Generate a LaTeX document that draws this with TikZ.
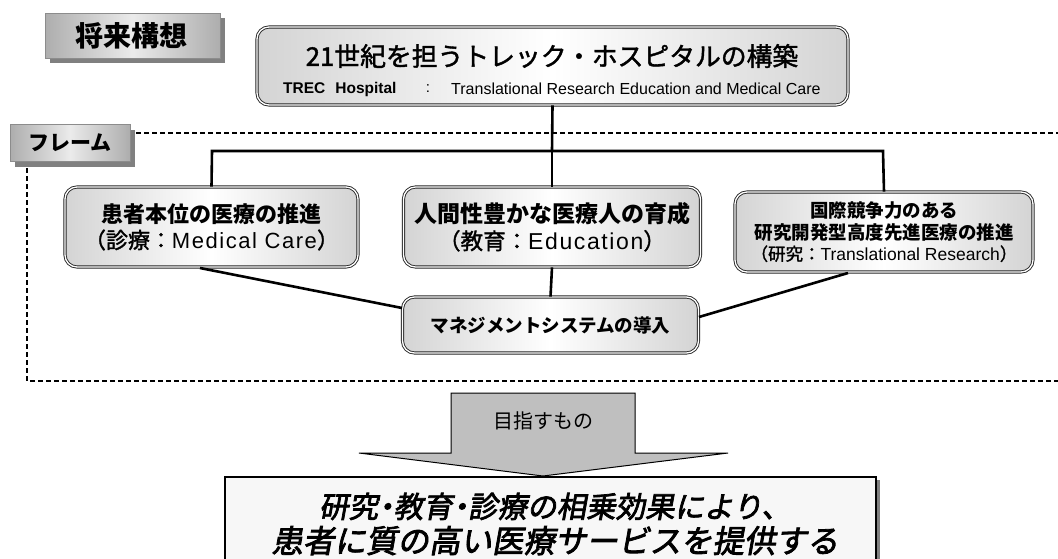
\documentclass[tikz,border=0pt]{standalone}
\usepackage{fontspec}
\setmainfont{Liberation Sans}
\newfontfamily\jp{Noto Sans CJK JP}
\newfontfamily\jpm[FakeBold=1.5]{Noto Sans CJK JP}
\newfontfamily\jpit[FakeSlant=0.18,FakeBold=2.5]{Noto Sans CJK JP}
\newfontfamily\latw[LetterSpace=7]{Liberation Sans}
\usetikzlibrary{shadows}
\newcommand{\fs}[1]{\fontsize{#1}{#1}\selectfont}
\tikzset{
  rbox/.style={rounded corners=12pt, draw=black!85, line width=0.9pt, double=white, double distance=1.3pt,
    left color=black!17, right color=black!17, middle color=white, inner sep=0pt},
  tag/.style={draw=black!45, line width=1pt, left color=black!32, right color=black!32, middle color=black!8,
    inner sep=0pt, drop shadow={shadow xshift=5pt, shadow yshift=-5pt, fill=black!50, opacity=1}},
  conn/.style={line width=2.6pt, black},
  frame/.style={line width=1.4pt, dash pattern=on 5pt off 3pt},
  txt/.style={inner sep=0pt, align=center},
}
\begin{document}
\begin{tikzpicture}[x=1pt,y=-1pt]
\useasboundingbox[fill=white] (0,0) rectangle (1058,558);

% frame
\node[tag, minimum width=120pt, minimum height=37pt] (fr) at (70,143) {};
\node[txt] (frt) at (fr) {\jp\bfseries\fs{21}フレーム};
\coordinate (f1) at (136,133);
\coordinate (f2) at (1060,133);
\coordinate (f3) at (27,168);
\coordinate (f4) at (27,381);
\coordinate (f5) at (1060,381);
\draw[frame] (f1) -- (f2);
\draw[frame] (f3) -- (f4) -- (f5);

% tag
\node[tag, minimum width=175pt, minimum height=45pt] (fut) at (132.5,35.5) {};
\node[txt] (futt) at (131,35.5) {\jp\bfseries\fs{28}将来構想};

% top box
\node[rbox, minimum width=591pt, minimum height=78pt] (top) at (552.5,66) {};
\node[txt] (topt) at (552,56) {\jpm\fs{25.8}21世紀を担うトレック・ホスピタルの構築};
\node[txt, anchor=west] (tops1) at (283,89) {\bfseries\fs{15.5}TREC\hspace{10pt}Hospital};
\node[txt] (tops2) at (428,89) {\fs{15}:};
\node[txt, anchor=west] (tops3) at (451,89) {\fs{16}Translational Research Education and Medical Care};

% three boxes
\node[rbox, minimum width=293pt, minimum height=80pt] (b1) at (211.5,227) {};
\node[txt] (b1t) at (b1) {\jp\bfseries\fs{22}患者本位の医療の推進\\[4pt]\jpm\fs{22}（診療：{\latw\fs{22}Medical Care}）};
\node[rbox, minimum width=297pt, minimum height=80pt] (b2) at (552,227) {};
\node[txt] (b2t) at (b2) {\jp\bfseries\fs{23}人間性豊かな医療人の育成\\[4pt]\jpm\fs{22.5}（教育：{\latw\fs{23}Education}）};
\node[rbox, minimum width=298pt, minimum height=80pt] (b3) at (884,232) {};
\node[txt] (b3t) at (b3) {\jp\bfseries\fs{18.5}国際競争力のある\\[3pt]\jp\bfseries\fs{18.5}研究開発型高度先進医療の推進\\[3pt]\jpm\fs{17.5}（研究：{\rmfamily Translational Research}）};

% management
\node[rbox, minimum width=296pt, minimum height=56pt] (mg) at (550.5,325) {};
\node[txt] (mgt) at (mg) {\jp\bfseries\fs{18.5}マネジメントシステムの導入};

% connectors
\coordinate (h1) at (212,151);
\coordinate (h2) at (552,151);
\coordinate (h3) at (883,151);
\draw[conn] (top.south) -- (h2);
\draw[conn] (b1.north) -- (h1) -- (h3) -- (b3.north);
\draw[conn] (h2) -- (b2.north);
\coordinate (l1) at (200,268);
\coordinate (l3) at (848,273);
\draw[conn] (l1) -- (mg.west |- 0,308);
\draw[conn] (b2.south) -- (mg.north);
\draw[conn] (l3) -- (mg.east |- 0,317);

% arrow
\coordinate (a1) at (451,393);
\coordinate (a2) at (635,393);
\coordinate (a3) at (635,453);
\coordinate (a4) at (728,453);
\coordinate (a5) at (543,476);
\coordinate (a6) at (359,453);
\coordinate (a7) at (451,453);
\draw[fill=black!25, line width=1pt, line join=miter] (a1) -- (a2) -- (a3) -- (a4) -- (a5) -- (a6) -- (a7) -- cycle;
\node[txt] (arr) at (543,421) {\jp\fs{20}目指すもの};

% bottom box
\node[draw=black, line width=1.2pt, fill=black!3, minimum width=651pt, minimum height=100pt, inner sep=0pt,
  drop shadow={shadow xshift=4pt, shadow yshift=-3pt, fill=black!50, opacity=1}] (bot) at (550.5,527) {};
\node[txt] (bott) at (555,524) {\jpit\fs{29.5}研究\hspace{-7pt}・\hspace{-7pt}教育\hspace{-7pt}・\hspace{-7pt}診療の相乗効果により、\\[5pt]\jpit\fs{31.5}患者に質の高い医療サービスを提供する};
\end{tikzpicture}
\end{document}
